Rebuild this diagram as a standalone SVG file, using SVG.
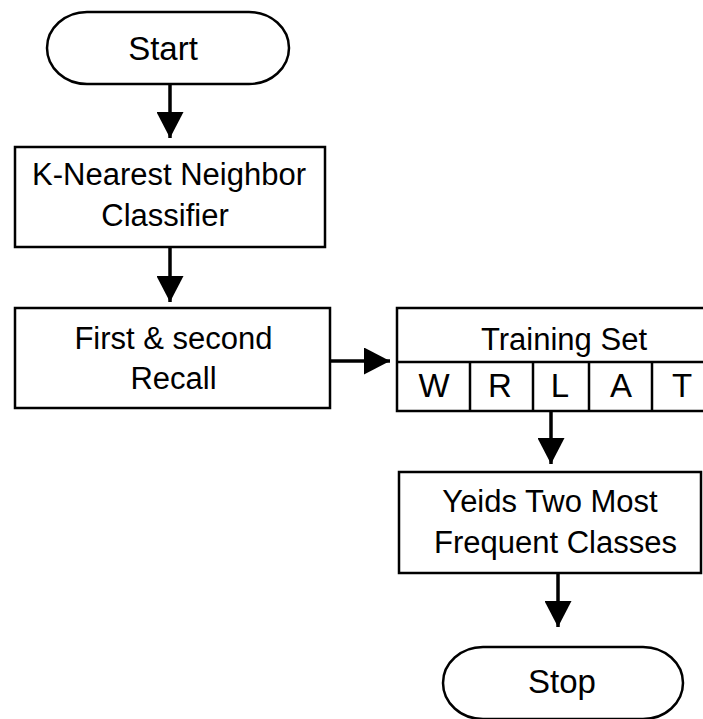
<svg xmlns="http://www.w3.org/2000/svg" width="703" height="719" viewBox="0 0 703 719">
<style>
.box{fill:#fff;stroke:#000;stroke-width:2.5}
.ln{fill:none;stroke:#000;stroke-width:2.5}
.con{fill:none;stroke:#000;stroke-width:3.5}
text{font-family:"Liberation Sans",Arial,sans-serif;font-size:31px;fill:#000;text-anchor:middle}
.big{font-size:33px}
</style>
<defs>
<marker id="ah" markerUnits="userSpaceOnUse" viewBox="0 0 26 27" markerWidth="26" markerHeight="27" refX="26" refY="13.5" orient="auto">
<polygon points="0,0 26,13.5 0,27" fill="#000"/>
</marker>
</defs>
<rect width="703" height="719" fill="#fff"/>
<g id="connectors">
<line class="con" x1="170" y1="84" x2="170" y2="138" marker-end="url(#ah)"/>
<line class="con" x1="170" y1="247" x2="170" y2="302" marker-end="url(#ah)"/>
<line class="con" x1="330" y1="361" x2="390" y2="361" marker-end="url(#ah)"/>
<line class="con" x1="551" y1="411" x2="551" y2="464" marker-end="url(#ah)"/>
<line class="con" x1="558" y1="573" x2="558" y2="627" marker-end="url(#ah)"/>
</g>
<g id="start">
<rect class="box" x="47" y="12" width="242" height="72" rx="40" ry="36"/>
<text class="big" x="163" y="60">Start</text>
</g>
<g id="knn">
<rect class="box" x="15" y="147" width="310" height="100"/>
<text x="169" y="185">K-Nearest Neighbor</text>
<text x="165" y="226">Classifier</text>
</g>
<g id="recall">
<rect class="box" x="15" y="308" width="315" height="100"/>
<text x="173.5" y="349">First &amp; second</text>
<text x="173.5" y="389">Recall</text>
</g>
<g id="training-set">
<rect class="box" x="397" y="308" width="330" height="103"/>
<line class="ln" x1="397" y1="362" x2="727" y2="362"/>
<line class="ln" x1="470" y1="362" x2="470" y2="411"/>
<line class="ln" x1="533" y1="362" x2="533" y2="411"/>
<line class="ln" x1="589" y1="362" x2="589" y2="411"/>
<line class="ln" x1="652" y1="362" x2="652" y2="411"/>
<text x="564" y="350">Training Set</text>
<text class="big" x="434" y="397">W</text>
<text class="big" x="500" y="397">R</text>
<text class="big" x="560" y="397">L</text>
<text class="big" x="621" y="397">A</text>
<text class="big" x="682" y="397">T</text>
</g>
<g id="yields">
<rect class="box" x="399" y="472" width="302" height="101"/>
<text x="550" y="512">Yeids Two Most</text>
<text x="555.5" y="553">Frequent Classes</text>
</g>
<g id="stop">
<rect class="box" x="443" y="647" width="240" height="72" rx="40" ry="36"/>
<text class="big" x="562" y="693">Stop</text>
</g>
</svg>
